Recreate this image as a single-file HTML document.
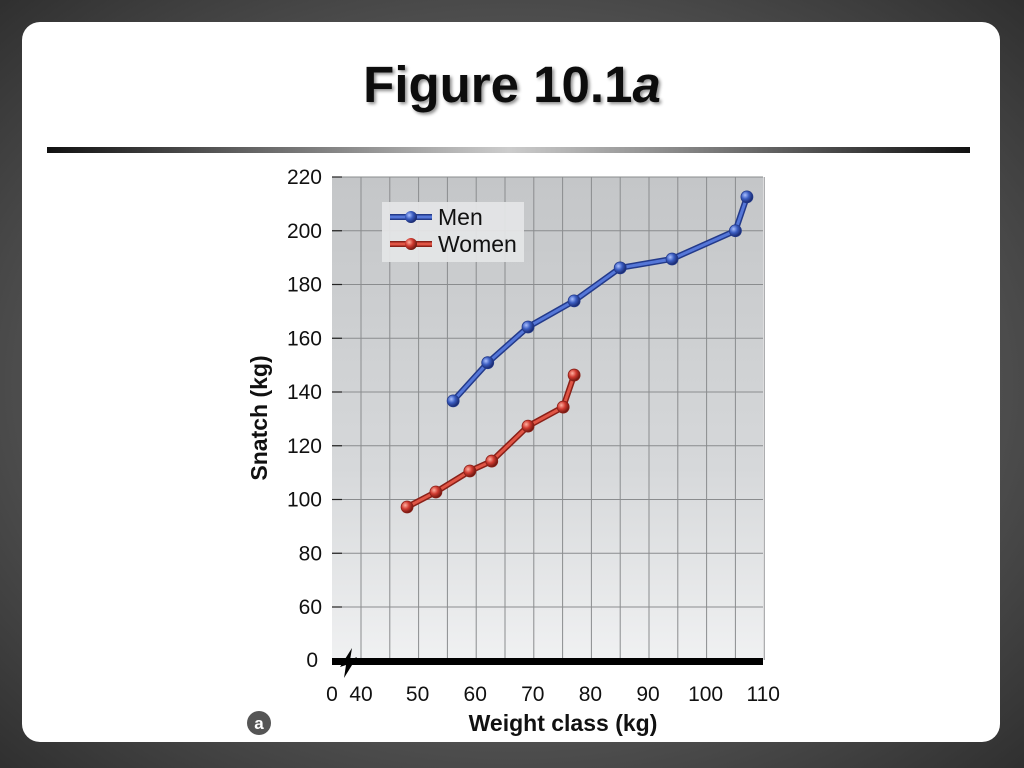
<!DOCTYPE html>
<html><head><meta charset="utf-8"><style>
html,body{margin:0;padding:0;width:1024px;height:768px;overflow:hidden;background:#3a3a3a;font-family:"Liberation Sans",sans-serif}
</style></head><body>
<svg width="1024" height="768" viewBox="0 0 1024 768">
<defs>
<radialGradient id="bgG" cx="50%" cy="50%" r="75%"><stop offset="0" stop-color="#8a8a8a"/><stop offset="1" stop-color="#2a2a2a"/></radialGradient>
<linearGradient id="ruleG" x1="0" x2="1"><stop offset="0" stop-color="#111"/><stop offset="0.5" stop-color="#ccc"/><stop offset="1" stop-color="#111"/></linearGradient>
<linearGradient id="plotG" x1="0" y1="0" x2="0" y2="1"><stop offset="0" stop-color="#c4c6c8"/><stop offset="0.6" stop-color="#d6d8da"/><stop offset="1" stop-color="#f0f1f2"/></linearGradient>
<radialGradient id="blueBall" cx="35%" cy="35%" r="65%"><stop offset="0" stop-color="#aac0ff"/><stop offset="0.5" stop-color="#3a5cc0"/><stop offset="1" stop-color="#1a2a70"/></radialGradient>
<radialGradient id="redBall" cx="35%" cy="35%" r="65%"><stop offset="0" stop-color="#ffb0a0"/><stop offset="0.5" stop-color="#d03a30"/><stop offset="1" stop-color="#701810"/></radialGradient>
<filter id="sh"><feDropShadow dx="2" dy="2" stdDeviation="1.5" flood-color="#000" flood-opacity="0.45"/></filter>
</defs>
<rect width="1024" height="768" fill="url(#bgG)"/>
<rect x="22" y="22" width="978" height="720" rx="18" fill="#fff"/>
<text x="512" y="102" text-anchor="middle" font-size="51" font-weight="bold" fill="#111" filter="url(#sh)">Figure 10.1<tspan font-style="italic">a</tspan></text>
<rect x="47" y="147" width="923" height="6" fill="url(#ruleG)"/>
<g id="chart"></g>
</svg>
<script>
const menX=[56,62,69,77,85,94,105,107];
const menY=[136.7,150.9,164.2,173.9,186.2,189.5,200,212.6];
const womenX=[48,53,58.9,62.7,69,75.1,77];
const womenY=[97.2,102.8,110.6,114.3,127.3,134.4,146.3];
const yTicks=[60,80,100,120,140,160,180,200,220];
const xTicks=[40,50,60,70,80,90,100,110];

const NS='http://www.w3.org/2000/svg';
const g=document.getElementById('chart');
function xs(v){return 361+(v-40)*5.76;}
function ys(v){return 177+(220-v)*2.6875;}
function mk(t,a,p){const e=document.createElementNS(NS,t);for(const k in a)e.setAttribute(k,a[k]);(p||g).appendChild(e);return e;}

const plot=mk('rect',{x:332,y:177,width:431,height:483,fill:'url(#plotG)'});


for(let v=40;v<=110;v+=5){const l=mk('line',{x1:xs(v),x2:xs(v),y1:177,y2:660,stroke:'#8a8c8e','stroke-width':1});

}
yTicks.forEach(v=>{const l=mk('line',{x1:332,x2:763,y1:ys(v),y2:ys(v),stroke:'#8a8c8e','stroke-width':1});


const tk=mk('line',{x1:332,x2:342,y1:ys(v),y2:ys(v),stroke:'#222','stroke-width':1.2});


const t=mk('text',{x:322,y:ys(v)+7,'text-anchor':'end','font-size':21,fill:'#111'});t.textContent=v;

});
const z=mk('text',{x:318,y:667,'text-anchor':'end','font-size':21,fill:'#111'});z.textContent='0';


const ax=mk('rect',{x:332,y:658,width:431,height:7,fill:'#000'});


const br=mk('path',{d:'M340 667 L352 648 L350 660 L357 657 L344 678 L346 665 Z',fill:'#000'});


xTicks.forEach(v=>{const t=mk('text',{x:xs(v)+(v==40?0:-1),y:701,'text-anchor':'middle','font-size':21,fill:'#111'});t.textContent=v;

});
const x0=mk('text',{x:332,y:701,'text-anchor':'middle','font-size':21,fill:'#111'});x0.textContent='0';


const xt=mk('text',{x:563,y:731,'text-anchor':'middle','font-size':23,'font-weight':'bold',fill:'#111'});xt.textContent='Weight class (kg)';


const yt=mk('text',{x:0,y:0,'text-anchor':'middle','font-size':23,'font-weight':'bold',fill:'#111',transform:'translate(267,418) rotate(-90)'});yt.textContent='Snatch (kg)';


const bc=mk('circle',{cx:259,cy:723,r:12,fill:'#555'});


const bt=mk('text',{x:259,y:729,'text-anchor':'middle','font-size':17,'font-weight':'bold',fill:'#fff'});bt.textContent='a';



function series(X,Y,col,dark,ball,name){
 const pts=X.map((v,i)=>xs(v)+','+ys(Y[i])).join(' ');
 const o=mk('polyline',{points:pts,fill:'none',stroke:dark,'stroke-width':6,'stroke-linejoin':'round'});
 
 
 const l=mk('polyline',{points:pts,fill:'none',stroke:col,'stroke-width':3,'stroke-linejoin':'round'});
 
 
 X.forEach((v,i)=>{const c=mk('circle',{cx:xs(v),cy:ys(Y[i]),r:6,fill:ball,stroke:dark,'stroke-width':0.8});
 
 });
}
series(menX,menY,'#5577d8','#233a8a','url(#blueBall)','men');
series(womenX,womenY,'#e05545','#8a2018','url(#redBall)','women');

const lg=mk('rect',{x:382,y:202,width:142,height:60,fill:'#e4e5e6',opacity:0.95});


[['Men','#5577d8','#233a8a','url(#blueBall)',217],['Women','#e05545','#8a2018','url(#redBall)',244]].forEach(d=>{
 const a=mk('line',{x1:390,x2:432,y1:d[4],y2:d[4],stroke:d[2],'stroke-width':6});
 
 
 const b=mk('line',{x1:390,x2:432,y1:d[4],y2:d[4],stroke:d[1],'stroke-width':3});
 
 
 const c=mk('circle',{cx:411,cy:d[4],r:6,fill:d[3]});
 
 
 const t=mk('text',{x:438,y:d[4]+8,'font-size':23,fill:'#111'});t.textContent=d[0];
 
 
});
</script>
</body></html>
